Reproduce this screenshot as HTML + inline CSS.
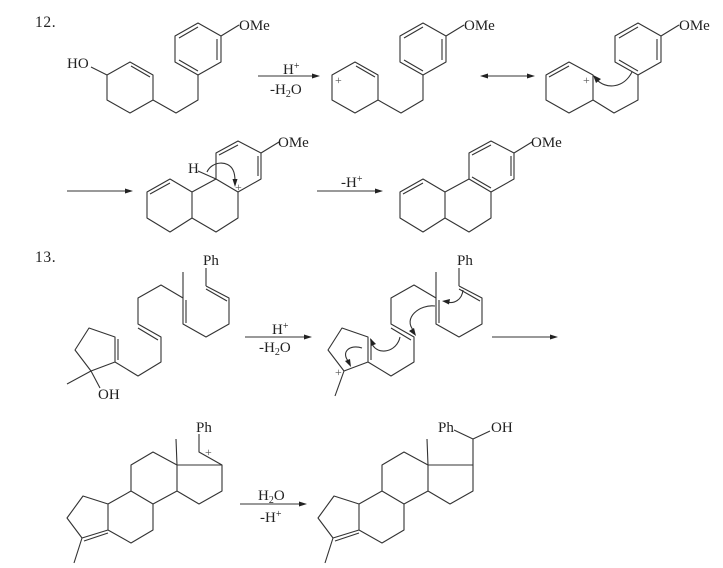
<!DOCTYPE html>
<html><head><meta charset="utf-8"><style>
html,body{margin:0;padding:0;background:#fff;width:723px;height:568px;overflow:hidden}
svg{display:block}
text{font-family:"Liberation Serif","Noto Serif CJK SC",serif;font-size:15px;fill:#222}
.s{font-size:10px}
.p{font-size:12px;fill:#555}
path{fill:none;stroke:#333;stroke-width:1.1;stroke-linejoin:round}
polygon{fill:#222;stroke:none}
</style></head><body>
<svg width="723" height="568" viewBox="0 0 723 568" xmlns="http://www.w3.org/2000/svg">
<text x="35" y="27" style="font-size:15.5px;letter-spacing:.6px">12.</text>
<text x="35" y="262" style="font-size:15.5px;letter-spacing:.6px">13.</text>

<defs>
<g id="benz"><path d="M198 75L175 62V36L198 23L221 36V62ZM179 38L198 27M217 39V60M179 60L198 71M221 36L239 25"/><text x="239" y="30">OMe</text></g>
<g id="tri"><path d="M192 192L170 179L147 192V218L170 232L192 218ZM150 194L170 183M192 218L216 232L238 218V192M192 192L216 179"/></g>
<g id="ch"><path d="M206 286L229 298V324L206 337L183 324V298L161 285L138 298V324L161 337V362L138 376L115 362V337L89 328L75 350L91 371L115 362M206 289L227 301M186 300V323M138 328L158 340M118 339V360M183 272V298"/></g>
<g id="st"><path d="M177 465L153 452L131 465V491L153 504V530L131 543L108 530V504L131 491L153 504L177 491V465H222V491L199 504L177 491M108 504L83 496L67 518L82 538L108 530M84 541L108 533M82 538L74 563M176 439L177 465"/></g>
</defs>

<!-- mol 1 -->
<use href="#benz"/>
<path d="M91 67L107 75L130 62L153 75V100L130 113L107 100V75M131 66L150 77M153 100L176 113L198 100V75"/>
<text x="67" y="68">HO</text>
<!-- arrow 1 -->
<path d="M258 76H314"/><polygon points="320,76 312,73.5 312,78.5"/>
<text x="283" y="74">H<tspan class="s" dy="-5">+</tspan></text>
<text x="270" y="94">-H<tspan class="s" dy="3">2</tspan><tspan dy="-3">O</tspan></text>
<!-- mol 2 -->
<use href="#benz" x="225"/>
<path d="M332 75L355 62L378 75V100L355 113L332 100ZM356 66L375 77M378 100L401 113L423 100V75"/>
<text x="335" y="84" class="p">+</text>
<!-- double arrow -->
<path d="M484 76H531"/><polygon points="480,76 488,73.5 488,78.5"/><polygon points="535,76 527,73.5 527,78.5"/>
<!-- mol 3 -->
<use href="#benz" x="440"/>
<path d="M546 75L569 62L593 75V100L569 113L546 100ZM549 77L569 66M593 100L614 113L638 100V75"/>
<text x="583" y="84" class="p">+</text>
<path d="M632 72C624 88 606 90 596 79"/><polygon points="593,75 601,79 596,83"/>

<!-- arrow 2 -->
<path d="M67 191H127"/><polygon points="133,191 125,188.5 125,193.5"/>
<!-- mol 4 -->
<use href="#tri"/>
<path d="M216 179V153L238 141L261 153V179L238 192L216 179M219 155L238 145M258 156V176M261 153L279 142M198 171L216 179"/>
<text x="278" y="147">OMe</text>
<text x="188" y="173">H</text>
<path d="M207 172C212 161 228 160 233 170C235 174 235 178 235 181"/><polygon points="235,187 232.5,179 237.5,179"/>
<text x="235" y="191" class="p">+</text>
<!-- arrow 3 -->
<path d="M317 191H377"/><polygon points="383,191 375,188.5 375,193.5"/>
<text x="341" y="187">-H<tspan class="s" dy="-5">+</tspan></text>
<!-- mol 5 -->
<use href="#tri" x="253"/>
<path d="M469 179V153L491 141L514 153V179L491 192L469 179M472 155L491 145M511 156V176M472 177L491 188M514 153L532 142"/>
<text x="531" y="147">OMe</text>

<!-- mol 6 -->
<use href="#ch"/>
<path d="M206 268V286M91 371L67 384M91 371L100 388"/>
<text x="203" y="265">Ph</text>
<text x="98" y="399">OH</text>
<!-- arrow -->
<path d="M245 337H306"/><polygon points="312,337 304,334.5 304,339.5"/>
<text x="272" y="334">H<tspan class="s" dy="-5">+</tspan></text>
<text x="259" y="352">-H<tspan class="s" dy="3">2</tspan><tspan dy="-3">O</tspan></text>
<!-- mol 7 -->
<use href="#ch" x="253"/>
<path d="M459 268V286M344 371L335 396"/>
<text x="457" y="265">Ph</text>
<text x="335" y="376" class="p">+</text>
<path d="M463 290C462 300 454 304 447 302"/><polygon points="442,301 450,299 449,304.5"/>
<path d="M435 306C420 304 402 318 414 331"/><polygon points="416,336 409,331 414,328"/>
<path d="M400 337C397 352 378 356 372 344"/><polygon points="370,338 376,344 371,346"/>
<path d="M362 348C350 344 340 352 349 362"/><polygon points="351,367 345,361 350,359"/>
<!-- arrow -->
<path d="M492 337H552"/><polygon points="558,337 550,334.5 550,339.5"/>

<!-- mol 8 -->
<use href="#st"/>
<path d="M199 434V452L222 465"/>
<text x="196" y="432">Ph</text>
<text x="205" y="456" class="p">+</text>
<!-- arrow -->
<path d="M240 504H301"/><polygon points="307,504 299,501.5 299,506.5"/>
<text x="258" y="500">H<tspan class="s" dy="3">2</tspan><tspan dy="-3">O</tspan></text>
<text x="260" y="522">-H<tspan class="s" dy="-5">+</tspan></text>
<!-- mol 9 -->
<use href="#st" x="251"/>
<path d="M473 465V439M454 430L473 439L490 431"/>
<text x="438" y="432">Ph</text>
<text x="491" y="432">OH</text>
</svg>
</body></html>
